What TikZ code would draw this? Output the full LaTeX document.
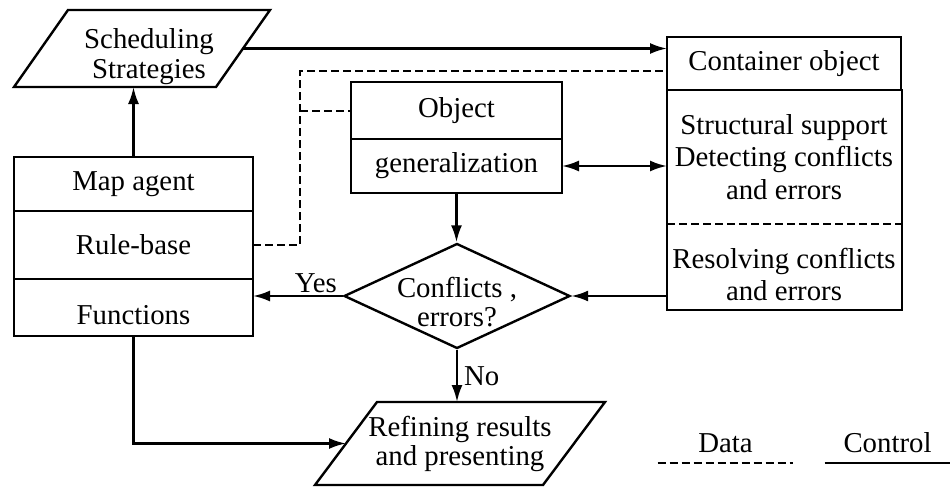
\documentclass[tikz,border=0pt]{standalone}
\usepackage{fontspec}
\setmainfont{Liberation Serif}
\usetikzlibrary{positioning, arrows.meta, shapes.geometric}

\begin{document}
\begin{tikzpicture}[
    x=0.5pt, y=-0.5pt,
    every node/.style={font=\fontsize{14.4}{16.3}\selectfont},
    box/.style={rectangle, draw=black, line width=1.2pt, outer sep=0pt, align=center},
    cell/.style={rectangle, outer sep=0pt, align=center, minimum width=117pt},
    io/.style={rectangle, outer sep=0pt, inner sep=0pt},
    slanted/.style={line width=1.2pt, line join=miter},
    decision/.style={diamond, draw=black, line width=1.2pt, inner sep=0pt,
                     minimum width=113pt, minimum height=52.5pt},
    arrow/.style={-{Latex[length=8.5pt, width=5.5pt]}, line width=1.2pt},
    twoway/.style={{Latex[length=8.5pt, width=5.5pt]}-{Latex[length=8.5pt, width=5.5pt]}, line width=1.2pt},
    dataline/.style={dash pattern=on 4pt off 2pt, line width=1pt},
    legend/.style={minimum height=20pt, inner sep=0pt}
]
\useasboundingbox (0,0) rectangle (950,487);

\node[io, minimum width=101pt, minimum height=38.5pt] (sched) at (142,48.5) {};
\draw[slanted] ([xshift=13.5pt]sched.north west) -- ([xshift=13.5pt]sched.north east)
    -- ([xshift=-13.5pt]sched.south east) -- ([xshift=-13.5pt]sched.south west) -- cycle;
\node[align=center, font=\fontsize{14.4}{15}\selectfont] (schedtext) at ([xshift=3.5pt, yshift=-4pt]sched.center) {Scheduling\\Strategies};

\node[box, minimum width=119.5pt, minimum height=27pt] (mapagent) at (133.5,184) {Map agent};
\node[box, minimum width=119.5pt, minimum height=34pt, below=0pt of mapagent] (rulebase) {Rule-base};
\node[box, minimum width=119.5pt, minimum height=28.5pt, text height=17.5pt, below=0pt of rulebase] (functions) {Functions};

\node[box, minimum width=105.5pt, minimum height=28.5pt] (object) at (456.5,110.5) {Object};
\node[box, minimum width=105.5pt, minimum height=27pt, below=0pt of object] (generalization) {generalization};

\node[box, minimum width=117pt, minimum height=26.5pt] (container) at (784,63.5) {Container object};
\node[cell, minimum height=67pt, below=0pt of container] (support) {Structural support\\Detecting conflicts\\and errors};
\node[cell, minimum height=43pt, text height=34pt, inner ysep=1pt, below=0pt of support] (resolve) {Resolving conflicts\\and errors};
\draw[line width=1.2pt] (support.north west) rectangle (resolve.south east);
\draw[dataline] (support.south west) -- (support.south east);

\node[decision] (check) at (457,296) {};
\node[align=center, font=\fontsize{14.4}{14.5}\selectfont] (checktext) at ([yshift=-3pt]check.center) {Conflicts ,\\errors?};

\node[io, minimum width=114pt, minimum height=41.5pt, align=center,
      font=\fontsize{14.4}{14.5}\selectfont] (refine) at (460,443.5) {Refining results\\and presenting};
\draw[slanted] ([xshift=15.5pt]refine.north west) -- ([xshift=15.5pt]refine.north east)
    -- ([xshift=-15.5pt]refine.south east) -- ([xshift=-15.5pt]refine.south west) -- cycle;

\node[legend, minimum width=67.5pt] (datakey) at (725.5,443) {Data};
\node[legend, minimum width=62.5pt] (ctrlkey) at (887.5,443) {Control};
\draw[dataline] (datakey.south west) -- (datakey.south east);
\draw[line width=1pt] (ctrlkey.south west) -- (ctrlkey.south east);

\coordinate (bus) at (300,71);

\draw[arrow] (mapagent.north) -- (sched.south -| mapagent.north);
\draw[arrow] (sched.east) -- (sched.east -| container.west);
\draw[dataline] (rulebase.east) -| (bus) -- (bus -| container.west);
\draw[dataline] (bus |- object.west) -- (object.west);
\draw[arrow] (generalization.south) -- (generalization.south |- check.north);
\draw[twoway] (generalization.east) -- (generalization.east -| support.west);
\draw[arrow] (check.east -| resolve.west) -- (check.east);
\draw[arrow] (check.west) -- node[above, pos=0.3, inner sep=1pt] {Yes} (check.west -| functions.east);
\draw[arrow] (check.south) -- node[right, inner sep=3pt] {No} (check.south |- refine.north);
\draw[arrow] (functions.south) |- (refine.west);
\end{tikzpicture}
\end{document}
